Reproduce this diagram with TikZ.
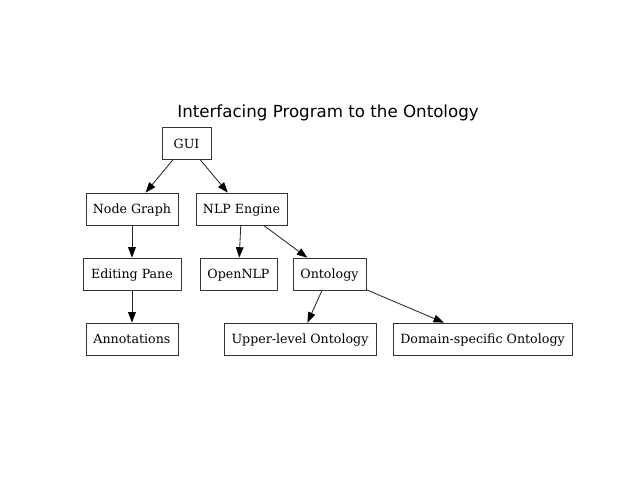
\documentclass[tikz,border=0pt]{standalone}
\usepackage{fontspec}
\setmainfont{DejaVu Serif}
\newfontfamily\titlefont{DejaVu Sans}
\usetikzlibrary{arrows.meta}
\begin{document}
\begin{tikzpicture}[x=1pt,y=1pt,
  box/.style={draw=black!80, line width=0.6pt, inner sep=0pt, minimum height=23pt, text height=7.4pt, text depth=0.8pt, font=\fontsize{9.1}{10}\selectfont},
  edge/.style={draw=black!85, line width=0.6pt, -{Triangle[length=7.5pt,width=5.5pt,fill=black,color=black]}}]
\useasboundingbox (0,0) rectangle (460.8,-345.6);
\node[font=\titlefont\fontsize{12}{14}\selectfont] (title) at (236.2,-81.2) {Interfacing Program to the Ontology};
\node[box, minimum width=35.3pt] (gui) at (134.3,-103.3) {GUI};
\node[box, minimum width=66.2pt] (ng) at (95.0,-150.5) {Node Graph};
\node[box, minimum width=65.5pt] (nlp) at (173.9,-150.5) {NLP Engine};
\node[box, minimum width=70.6pt] (ep) at (95.0,-197.3) {Editing Pane};
\node[box, minimum width=55.4pt] (onlp) at (171.7,-197.3) {OpenNLP};
\node[box, minimum width=52.6pt] (ont) at (237.2,-197.3) {Ontology};
\node[box, minimum width=66.2pt] (ann) at (95.0,-244.1) {Annotations};
\node[box, minimum width=109.4pt] (up) at (216.0,-244.1) {Upper-level Ontology};
\node[box, minimum width=128.9pt] (dom) at (347.4,-244.1) {Domain-specific Ontology};
\draw[edge] (gui) -- (ng);
\draw[edge] (gui) -- (nlp);
\draw[edge] (ng) -- (ep);
\draw[edge] (nlp) -- (onlp);
\draw[edge] (nlp) -- (ont);
\draw[edge] (ep) -- (ann);
\draw[edge] (ont) -- (up);
\draw[edge] (ont) -- (dom);
\end{tikzpicture}
\end{document}
